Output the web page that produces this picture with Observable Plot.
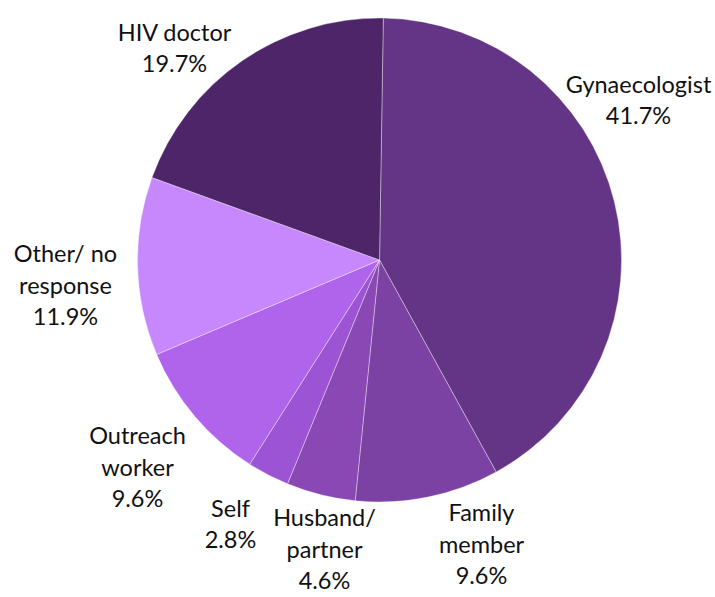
<!DOCTYPE html>
<html>
<head>
<meta charset="utf-8">
<script src="https://cdn.jsdelivr.net/npm/d3@7"></script>
<script src="https://cdn.jsdelivr.net/npm/@observablehq/plot@0.6"></script>
<style>
  html, body { margin: 0; padding: 0; background: #fff; }
  #chart svg { display: block; }
</style>
</head>
<body>
<div id="chart"></div>
<script>
// ---- data ----
const categories = ["Gynaecologist", "Family member", "Husband/ partner", "Self", "Outreach worker", "Other/ no response", "HIV doctor"];
const shares = [41.7, 9.6, 4.6, 2.8, 9.6, 11.9, 19.7];
const labelText = ["Gynaecologist", "Family\nmember", "Husband/\npartner", "Self", "Outreach\nworker", "Other/ no\nresponse", "HIV doctor"];
const colors = ["#643486", "#7B42A4", "#8948B3", "#9D54D4", "#B063EB", "#C888FD", "#4F2569"];

// ---- layout (pixels) ----
const W = 715, H = 597;
const cx = 379.5, cy = 260, R = 242;
const startDeg = 0.9;
const labelPos = [[638, 98], [481, 542], [324, 547], [230, 522], [137, 465], [65, 283], [174, 46]];

const rows = categories.map((c, i) => ({category: c, value: shares[i], label: labelText[i] + "\n" + shares[i].toFixed(1) + "%", lx: labelPos[i][0], ly: labelPos[i][1]}));

const pie = d3.pie().sort(null).value(d => d.value)
  .startAngle(startDeg * Math.PI / 180)
  .endAngle(startDeg * Math.PI / 180 + 2 * Math.PI);
const arcs = pie(rows);
const arcGen = d3.arc().innerRadius(0).outerRadius(R);

function pieMark(index, scales) {
  const g = d3.create("svg:g").attr("transform", `translate(${cx},${cy})`);
  g.selectAll("path").data(arcs).join("path")
    .attr("d", arcGen)
    .attr("fill", d => scales.color(d.data.category))
    .attr("stroke", "#ffffff")
    .attr("stroke-opacity", 0.6)
    .attr("stroke-width", 0.6);
  return g.node();
}

const chart = Plot.plot({
  width: W,
  height: H,
  margin: 0,
  x: {type: "identity", axis: null},
  y: {type: "identity", axis: null},
  color: {domain: categories, range: colors},
  style: {fontFamily: "Lato, sans-serif", background: "#fff"},
  marks: [
    pieMark,
    Plot.text(rows, {x: "lx", y: "ly", text: "label", fontSize: 23.5, lineHeight: 1.34, fill: "#111", textAnchor: "middle"})
  ]
});
document.getElementById("chart").appendChild(chart);
</script>
</body>
</html>
